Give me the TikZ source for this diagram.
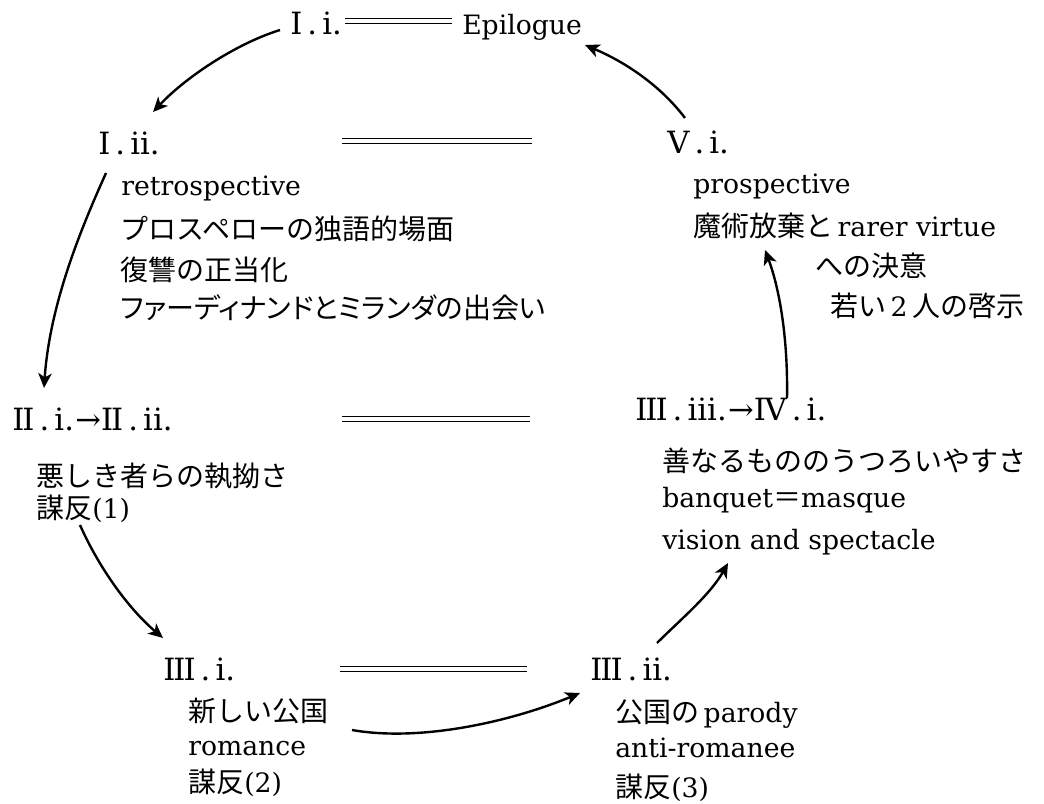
\documentclass[tikz,border=0pt]{standalone}
\usepackage{fontspec}
\setmainfont{DejaVu Serif}
\newfontfamily\jpfont{Noto Sans CJK JP}
\newfontfamily\jpprop[RawFeature=+palt]{Noto Sans CJK JP}
\newcommand{\J}[1]{{\jpfont\fontsize{21}{25}\selectfont #1}}
\newcommand{\JP}[1]{{\jpprop\fontsize{21}{25}\selectfont #1}}
\newcommand{\RI}{I}
\newcommand{\RII}{I\kern-1.5ptI}
\newcommand{\RIII}{I\kern-1.5ptI\kern-1.5ptI}
\newcommand{\RIV}{I\kern-1ptV}
\usetikzlibrary{arrows.meta}
\begin{document}
\begin{tikzpicture}[x=0.75pt,y=-0.75pt,
  lbl/.style={inner sep=0pt, anchor=base west, font=\fontsize{20}{24}\selectfont},
  rn/.style={lbl, font=\fontsize{23}{27}\selectfont},
  arr/.style={line width=1.8pt, -{Stealth[length=11pt,width=10pt,inset=3pt]}},
  dbl/.style={double, double distance=3.6pt, line width=0.8pt}]
\useasboundingbox (0,0) rectangle (1044,803);

% top
\node[rn] (t1) at (290,34) {\RI\,.\,i.};
\node[lbl] (t2) at (462,34) {Epilogue};
\path (t1.base east) ++(3,-13) coordinate (d1a);
\path (t2.base west) ++(-10,-13) coordinate (d1b);
\draw[dbl] (d1a) -- (d1b);

% I.ii
\node[rn] (a0) at (98,154) {\RI\,.\,ii.};
\coordinate (d2a) at (342,141); \coordinate (d2b) at (532,141);
\draw[dbl] (d2a) -- (d2b);
\node[lbl] (a1) at (121,195) {retrospective};
\node[lbl] (a2) at (120,239) {\J{プロスペローの独語的場面}};
\node[lbl] (a3) at (120,280) {\J{復讐の正当化}};
\node[lbl] (a4) at (120,318) {\JP{ファーディナンドとミランダの出会い}};

% II
\node[rn] (b0) at (12,430) {\RII\,.\,i.\kern1pt→\RII\,.\,ii.};
\coordinate (d3a) at (342,419); \coordinate (d3b) at (530,419);
\draw[dbl] (d3a) -- (d3b);
\node[lbl] (b1) at (36,486) {\J{悪しき者らの執拗さ}};
\node[lbl] (b2) at (36,518) {\J{謀反}(1)};

% III.i
\node[rn] (c0) at (163,680) {\RIII\,.\,i.};
\coordinate (d4a) at (340,669); \coordinate (d4b) at (527,669);
\draw[dbl] (d4a) -- (d4b);
\node[lbl] (c1) at (188,721) {\J{新しい公国}};
\node[lbl] (c2) at (188,755) {romance};
\node[lbl] (c3) at (188,792) {\J{謀反}(2)};

% III.ii
\node[rn] (e0) at (590,680) {\RIII\,.\,ii.};
\node[lbl] (e1) at (615,722) {\J{公国の}\,parody};
\node[lbl] (e2) at (615,757) {anti-romanee};
\node[lbl] (e3) at (615,797) {\J{謀反}(3)};

% III.iii -> IV.i
\node[rn] (f0) at (635,420) {\RIII\,.\,iii.\kern1pt→\RIV\,.\,i.};
\node[lbl] (f1) at (662,471) {\J{善なるもののうつろいやすさ}};
\node[lbl] (f2) at (662,507) {banquet\J{＝}masque};
\node[lbl] (f3) at (662,549) {vision and spectacle};

% V.i
\node[rn] (g0) at (667,153) {V\,.\,i.};
\node[lbl] (g1) at (693,193) {prospective};
\node[lbl] (g2) at (693,236) {\J{魔術放棄と}\,rarer virtue};
\node[lbl] (g3) at (815,276) {\J{への決意}};
\node[lbl] (g4) at (830,316) {\J{若い}\,2\,\J{人の啓示}};

% arrows
\coordinate (p1s) at (280,30);  \coordinate (p1e) at (153,112);
\coordinate (p2s) at (106,173); \coordinate (p2e) at (44,388);
\coordinate (p3s) at (80,525);  \coordinate (p3e) at (163,638);
\coordinate (p4s) at (352,730); \coordinate (p4e) at (580,693);
\coordinate (p5s) at (657,643); \coordinate (p5e) at (728,563);
\coordinate (p6s) at (787,398); \coordinate (p6e) at (765,250);
\coordinate (p7s) at (685,118); \coordinate (p7e) at (585,45);
\draw[arr] (p1s) .. controls (235,44) and (185,78) .. (p1e);
\draw[arr] (p2s) .. controls (85,220) and (50,300) .. (p2e);
\draw[arr] (p3s) .. controls (100,570) and (130,610) .. (p3e);
\draw[arr] (p4s) .. controls (420,742) and (510,722) .. (p4e);
\draw[arr] (p5s) .. controls (680,620) and (710,595) .. (p5e);
\draw[arr] (p6s) .. controls (788,340) and (780,290) .. (p6e);
\draw[arr] (p7s) .. controls (660,85) and (625,62) .. (p7e);
\end{tikzpicture}
\end{document}
